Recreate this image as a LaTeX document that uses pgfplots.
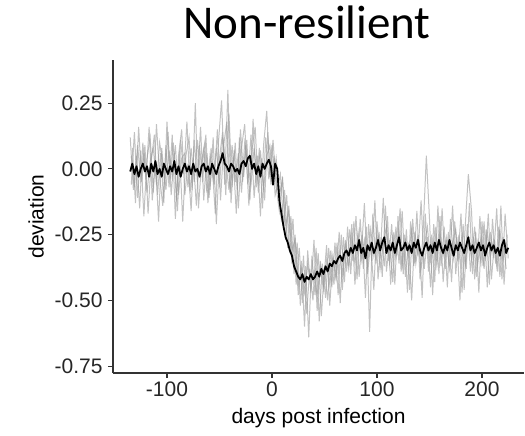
\documentclass[border=0pt]{standalone}
\usepackage{pgfplots}
\pgfplotsset{compat=1.18}
\usepackage{pgfplotstable}
\usepackage{fontspec}
\setmainfont{Liberation Sans}
\newfontfamily\titlefont{Carlito}

% individual trajectories (grey)
\pgfplotstableread[row sep=\\]{
x y\\
-135 0.12\\ -132 -0.08\\ -129 0.05\\ -126 -0.15\\ -123 0.10\\ -120 -0.04\\ -117 0.16\\ -114 -0.12\\ -111 0.03\\ -108 -0.20\\
-105 0.08\\ -102 -0.06\\ -99 0.14\\ -96 -0.10\\ -93 0.06\\ -90 -0.16\\ -87 0.11\\ -84 -0.02\\ -81 0.18\\ -78 -0.09\\
-75 0.04\\ -72 -0.14\\ -69 0.09\\ -66 -0.05\\ -63 0.13\\ -60 -0.11\\ -57 0.02\\ -54 -0.17\\ -51 0.10\\ -48 0.26\\
-45 -0.06\\ -42 0.30\\ -39 -0.13\\ -36 0.07\\ -33 -0.08\\ -30 0.15\\ -27 -0.03\\ -24 0.11\\ -21 -0.12\\ -18 0.19\\
-15 -0.07\\ -12 0.08\\ -9 -0.15\\ -6 0.12\\ -3 -0.04\\ 0 0.09\\ 3 -0.10\\
6 -0.05\\ 9 -0.20\\ 12 -0.08\\ 15 -0.30\\ 18 -0.18\\ 21 -0.40\\ 24 -0.28\\ 27 -0.52\\ 30 -0.33\\ 33 -0.55\\
36 -0.38\\ 39 -0.50\\ 42 -0.30\\ 45 -0.58\\ 48 -0.36\\ 51 -0.49\\ 54 -0.30\\ 57 -0.45\\ 60 -0.28\\ 63 -0.48\\
66 -0.25\\ 69 -0.43\\ 72 -0.22\\ 75 -0.40\\ 78 -0.20\\ 81 -0.42\\ 84 -0.19\\ 87 -0.38\\ 90 -0.22\\ 93 -0.62\\
96 -0.17\\ 99 -0.36\\ 102 -0.24\\ 105 -0.41\\ 108 -0.14\\ 111 -0.35\\ 114 -0.21\\ 117 -0.44\\ 120 -0.18\\ 123 -0.39\\
126 -0.25\\ 129 -0.47\\ 132 -0.20\\ 135 -0.37\\ 138 -0.16\\ 141 -0.42\\ 144 -0.23\\ 147 0.05\\ 150 -0.19\\ 153 -0.48\\
156 -0.22\\ 159 -0.40\\ 162 -0.15\\ 165 -0.38\\ 168 -0.24\\ 171 -0.43\\ 174 -0.20\\ 177 -0.35\\ 180 -0.17\\ 183 -0.46\\
186 -0.21\\ 189 -0.39\\ 192 -0.26\\ 195 -0.41\\ 198 -0.18\\ 201 -0.37\\ 204 -0.23\\ 207 -0.44\\ 210 -0.19\\ 213 -0.36\\
216 -0.22\\ 219 -0.42\\ 222 -0.17\\ 225 -0.34\\
}\grayA

\pgfplotstableread[row sep=\\]{
x y\\
-134 -0.06\\ -131 0.14\\ -128 -0.11\\ -125 0.07\\ -122 -0.18\\ -119 0.04\\ -116 0.12\\ -113 -0.09\\ -110 0.17\\ -107 -0.03\\
-104 -0.14\\ -101 0.09\\ -98 -0.07\\ -95 0.13\\ -92 -0.19\\ -89 0.05\\ -86 0.15\\ -83 -0.10\\ -80 0.02\\ -77 -0.16\\
-74 0.11\\ -71 -0.05\\ -68 0.16\\ -65 -0.12\\ -62 0.06\\ -59 -0.08\\ -56 0.12\\ -53 -0.21\\ -50 0.04\\ -47 0.14\\
-44 -0.10\\ -41 0.21\\ -38 -0.07\\ -35 0.10\\ -32 -0.15\\ -29 0.08\\ -26 0.17\\ -23 -0.06\\ -20 0.13\\ -17 -0.11\\
-14 0.05\\ -11 -0.18\\ -8 0.09\\ -5 0.22\\ -2 -0.03\\ 1 0.11\\ 4 -0.07\\
7 -0.16\\ 10 -0.03\\ 13 -0.27\\ 16 -0.14\\ 19 -0.36\\ 22 -0.25\\ 25 -0.48\\ 28 -0.35\\ 31 -0.60\\ 34 -0.31\\
37 -0.47\\ 40 -0.27\\ 43 -0.54\\ 46 -0.35\\ 49 -0.44\\ 52 -0.29\\ 55 -0.52\\ 58 -0.33\\ 61 -0.41\\ 64 -0.24\\
67 -0.46\\ 70 -0.27\\ 73 -0.37\\ 76 -0.21\\ 79 -0.44\\ 82 -0.26\\ 85 -0.33\\ 88 -0.13\\ 91 -0.40\\ 94 -0.28\\
97 -0.46\\ 100 -0.20\\ 103 -0.34\\ 106 -0.11\\ 109 -0.39\\ 112 -0.27\\ 115 -0.43\\ 118 -0.22\\ 121 -0.36\\ 124 -0.16\\
127 -0.41\\ 130 -0.28\\ 133 -0.50\\ 136 -0.24\\ 139 -0.33\\ 142 -0.12\\ 145 -0.38\\ 148 -0.26\\ 151 -0.45\\ 154 -0.21\\
157 -0.35\\ 160 -0.18\\ 163 -0.43\\ 166 -0.27\\ 169 -0.37\\ 172 -0.14\\ 175 -0.40\\ 178 -0.25\\ 181 -0.47\\ 184 -0.22\\
187 -0.02\\ 190 -0.16\\ 193 -0.42\\ 196 -0.28\\ 199 -0.36\\ 202 -0.20\\ 205 -0.45\\ 208 -0.24\\ 211 -0.34\\ 214 -0.15\\
217 -0.41\\ 220 -0.26\\ 223 -0.38\\
}\grayB

\pgfplotstableread[row sep=\\]{
x y\\
-133 0.08\\ -130 -0.13\\ -127 0.16\\ -124 -0.05\\ -121 0.09\\ -118 -0.17\\ -115 0.03\\ -112 0.13\\ -109 -0.10\\ -106 0.06\\
-103 -0.13\\ -100 0.18\\ -97 -0.04\\ -94 0.10\\ -91 -0.12\\ -88 0.07\\ -85 -0.20\\ -82 0.05\\ -79 0.12\\ -76 -0.08\\
-73 0.25\\ -70 -0.15\\ -67 0.03\\ -64 0.10\\ -61 -0.13\\ -58 0.08\\ -55 -0.06\\ -52 0.15\\ -49 -0.12\\ -46 0.09\\
-43 0.18\\ -40 -0.09\\ -37 0.05\\ -34 -0.17\\ -31 0.12\\ -28 -0.05\\ -25 0.09\\ -22 -0.14\\ -19 0.07\\ -16 0.16\\
-13 -0.09\\ -10 0.04\\ -7 -0.12\\ -4 0.14\\ -1 -0.06\\ 2 0.05\\ 5 -0.08\\
8 -0.02\\ 11 -0.21\\ 14 -0.10\\ 17 -0.32\\ 20 -0.19\\ 23 -0.44\\ 26 -0.30\\ 29 -0.51\\ 32 -0.37\\ 35 -0.64\\
38 -0.33\\ 41 -0.48\\ 44 -0.32\\ 47 -0.56\\ 50 -0.38\\ 53 -0.50\\ 56 -0.31\\ 59 -0.44\\ 62 -0.28\\ 65 -0.51\\
68 -0.26\\ 71 -0.39\\ 74 -0.23\\ 77 -0.35\\ 80 -0.18\\ 83 -0.41\\ 86 -0.25\\ 89 -0.49\\ 92 -0.21\\ 95 -0.35\\
98 -0.12\\ 101 -0.42\\ 104 -0.26\\ 107 -0.37\\ 110 -0.18\\ 113 -0.44\\ 116 -0.24\\ 119 -0.33\\ 122 -0.15\\ 125 -0.40\\
128 -0.23\\ 131 -0.46\\ 134 -0.19\\ 137 -0.36\\ 140 -0.27\\ 143 -0.49\\ 146 -0.17\\ 149 -0.39\\ 152 -0.25\\ 155 -0.43\\
158 -0.14\\ 161 -0.37\\ 164 -0.22\\ 167 -0.45\\ 170 -0.19\\ 173 -0.34\\ 176 -0.26\\ 179 -0.50\\ 182 -0.21\\ 185 -0.38\\
188 -0.13\\ 191 -0.40\\ 194 -0.24\\ 197 -0.47\\ 200 -0.20\\ 203 -0.35\\ 206 -0.17\\ 209 -0.42\\ 212 -0.27\\ 215 -0.39\\
218 -0.14\\ 221 -0.44\\ 224 -0.25\\
}\grayC

\pgfplotstableread[row sep=\\]{
x y\\
-134 0.05\\ -131 -0.07\\ -128 0.09\\ -125 -0.04\\ -122 0.06\\ -119 -0.09\\ -116 0.03\\ -113 0.08\\ -110 -0.06\\ -107 0.10\\
-104 0.02\\ -101 -0.08\\ -98 0.07\\ -95 -0.03\\ -92 0.09\\ -89 -0.10\\ -86 0.04\\ -83 0.06\\ -80 -0.07\\ -77 0.08\\
-74 -0.05\\ -71 0.11\\ -68 -0.02\\ -65 0.07\\ -62 -0.09\\ -59 0.05\\ -56 -0.04\\ -53 0.08\\ -50 -0.07\\ -47 0.12\\
-44 0.03\\ -41 -0.08\\ -38 0.09\\ -35 -0.05\\ -32 0.06\\ -29 -0.09\\ -26 0.10\\ -23 0.02\\ -20 -0.06\\ -17 0.08\\
-14 -0.04\\ -11 0.07\\ -8 -0.08\\ -5 0.05\\ -2 0.09\\ 1 -0.05\\ 4 0.04\\
7 -0.10\\ 10 -0.04\\ 13 -0.21\\ 16 -0.16\\ 19 -0.31\\ 22 -0.27\\ 25 -0.44\\ 28 -0.38\\ 31 -0.47\\ 34 -0.36\\
37 -0.45\\ 40 -0.39\\ 43 -0.48\\ 46 -0.37\\ 49 -0.46\\ 52 -0.35\\ 55 -0.44\\ 58 -0.34\\ 61 -0.42\\ 64 -0.31\\
67 -0.40\\ 70 -0.29\\ 73 -0.38\\ 76 -0.26\\ 79 -0.36\\ 82 -0.24\\ 85 -0.35\\ 88 -0.27\\ 91 -0.37\\ 94 -0.23\\
97 -0.33\\ 100 -0.25\\ 103 -0.38\\ 106 -0.28\\ 109 -0.22\\ 112 -0.36\\ 115 -0.26\\ 118 -0.34\\ 121 -0.24\\ 124 -0.37\\
127 -0.27\\ 130 -0.33\\ 133 -0.23\\ 136 -0.36\\ 139 -0.25\\ 142 -0.38\\ 145 -0.29\\ 148 -0.22\\ 151 -0.35\\ 154 -0.27\\
157 -0.37\\ 160 -0.24\\ 163 -0.33\\ 166 -0.26\\ 169 -0.38\\ 172 -0.28\\ 175 -0.23\\ 178 -0.35\\ 181 -0.25\\ 184 -0.37\\
187 -0.27\\ 190 -0.34\\ 193 -0.22\\ 196 -0.36\\ 199 -0.26\\ 202 -0.38\\ 205 -0.24\\ 208 -0.33\\ 211 -0.27\\ 214 -0.37\\
217 -0.23\\ 220 -0.35\\ 223 -0.28\\
}\grayD

% mean trajectory (black)
\pgfplotstableread[row sep=\\]{
x y\\
-135 -0.01\\ -133 0.02\\ -131 -0.02\\ -129 0.01\\ -127 -0.03\\ -125 0.00\\ -123 0.02\\ -121 -0.01\\ -119 0.01\\ -117 -0.03\\
-115 0.02\\ -113 -0.01\\ -111 0.03\\ -109 -0.02\\ -107 0.00\\ -105 -0.03\\ -103 0.02\\ -101 0.00\\ -99 -0.02\\ -97 0.01\\
-95 -0.01\\ -93 0.03\\ -91 -0.02\\ -89 0.01\\ -87 -0.03\\ -85 0.00\\ -83 0.02\\ -81 -0.01\\ -79 0.01\\ -77 -0.02\\
-75 0.02\\ -73 -0.01\\ -71 0.00\\ -69 -0.03\\ -67 0.01\\ -65 0.02\\ -63 -0.01\\ -61 0.01\\ -59 -0.02\\ -57 0.02\\
-55 0.00\\ -53 -0.02\\ -51 0.01\\ -49 0.03\\ -47 0.06\\ -45 0.02\\ -43 0.01\\ -41 -0.01\\ -39 0.02\\ -37 0.01\\
-35 -0.01\\ -33 0.00\\ -31 -0.02\\ -29 0.02\\ -27 0.03\\ -25 0.01\\ -23 0.04\\ -21 0.05\\ -19 0.00\\ -17 0.02\\
-15 -0.02\\ -13 0.01\\ -11 -0.03\\ -9 0.02\\ -7 0.00\\ -5 0.02\\ -3 0.035\\ -1 0.01\\ 1 -0.06\\ 3 0.02\\
5 0.00\\ 7 -0.12\\ 9 -0.17\\ 11 -0.22\\ 13 -0.26\\ 15 -0.28\\ 17 -0.31\\ 19 -0.33\\ 21 -0.37\\ 23 -0.39\\
25 -0.41\\ 27 -0.42\\ 29 -0.40\\ 31 -0.43\\ 33 -0.41\\ 35 -0.42\\ 37 -0.40\\ 39 -0.42\\ 41 -0.41\\ 43 -0.39\\
45 -0.41\\ 47 -0.38\\ 49 -0.40\\ 51 -0.37\\ 53 -0.39\\ 55 -0.36\\ 57 -0.37\\ 59 -0.35\\ 61 -0.36\\ 63 -0.34\\
65 -0.33\\ 67 -0.35\\ 69 -0.32\\ 71 -0.31\\ 73 -0.33\\ 75 -0.30\\ 77 -0.32\\ 79 -0.29\\ 81 -0.31\\ 83 -0.27\\
85 -0.32\\ 87 -0.30\\ 89 -0.34\\ 91 -0.29\\ 93 -0.31\\ 95 -0.28\\ 97 -0.32\\ 99 -0.30\\ 101 -0.27\\ 103 -0.31\\
105 -0.28\\ 107 -0.26\\ 109 -0.32\\ 111 -0.29\\ 113 -0.31\\ 115 -0.28\\ 117 -0.32\\ 119 -0.29\\ 121 -0.26\\ 123 -0.31\\
125 -0.30\\ 127 -0.28\\ 129 -0.31\\ 131 -0.29\\ 133 -0.32\\ 135 -0.28\\ 137 -0.30\\ 139 -0.27\\ 141 -0.31\\ 143 -0.33\\
145 -0.30\\ 147 -0.28\\ 149 -0.31\\ 151 -0.29\\ 153 -0.32\\ 155 -0.28\\ 157 -0.31\\ 159 -0.27\\ 161 -0.30\\ 163 -0.32\\
165 -0.29\\ 167 -0.31\\ 169 -0.27\\ 171 -0.30\\ 173 -0.33\\ 175 -0.29\\ 177 -0.31\\ 179 -0.28\\ 181 -0.30\\ 183 -0.32\\
185 -0.29\\ 187 -0.26\\ 189 -0.31\\ 191 -0.29\\ 193 -0.32\\ 195 -0.30\\ 197 -0.28\\ 199 -0.31\\ 201 -0.29\\ 203 -0.33\\
205 -0.30\\ 207 -0.28\\ 209 -0.31\\ 211 -0.29\\ 213 -0.32\\ 215 -0.30\\ 217 -0.33\\ 219 -0.29\\ 221 -0.27\\ 223 -0.32\\
225 -0.30\\
}\meanline

\begin{document}
\begin{tikzpicture}
\begin{axis}[
  at={(0,0)}, anchor=south west,
  scale only axis,
  width=411bp, height=313bp,
  xmin=-151.4, xmax=240,
  ymin=-0.776, ymax=0.414,
  axis x line*=bottom, axis y line*=left,
  axis line style={draw=black!80, line width=1.1pt},
  tick style={draw=black!80, line width=1.1pt},
  tick align=outside,
  major tick length=5bp,
  xtick={-100,0,100,200},
  xticklabels={-100,0,100,200},
  ytick={-0.75,-0.5,-0.25,0,0.25},
  yticklabels={-0.75,-0.50,-0.25,0.00,0.25},
  ticklabel style={font=\fontsize{21bp}{25bp}\selectfont, text=black!85},
  yticklabel style={xshift=-2bp},
  xlabel={days post infection},
  ylabel={deviation},
  label style={font=\fontsize{21bp}{25bp}\selectfont, text=black},
  xlabel style={at={(axis description cs:0.5,-0.160)}, anchor=base},
  ylabel style={at={(axis description cs:-0.187,0.5)}, anchor=center},
  title={Non-resilient},
  title style={font=\titlefont\fontsize{47bp}{56bp}\selectfont, at={(axis description cs:0.472,1.051)}, anchor=base},
]
\addplot[draw=black!40, line width=1pt, opacity=0.6] table[x=x,y=y] {\grayA};
\addplot[draw=black!40, line width=1pt, opacity=0.6] table[x=x,y=y] {\grayB};
\addplot[draw=black!40, line width=1pt, opacity=0.6] table[x=x,y=y] {\grayC};
\addplot[draw=black!40, line width=1pt, opacity=0.6] table[x=x,y=y] {\grayD};
\addplot[draw=black, line width=1.8pt, line join=round] table[x=x,y=y] {\meanline};
\end{axis}
\pgfresetboundingbox
\path[use as bounding box] (-113bp,-63bp) rectangle (412bp,373bp);
\end{tikzpicture}
\end{document}
